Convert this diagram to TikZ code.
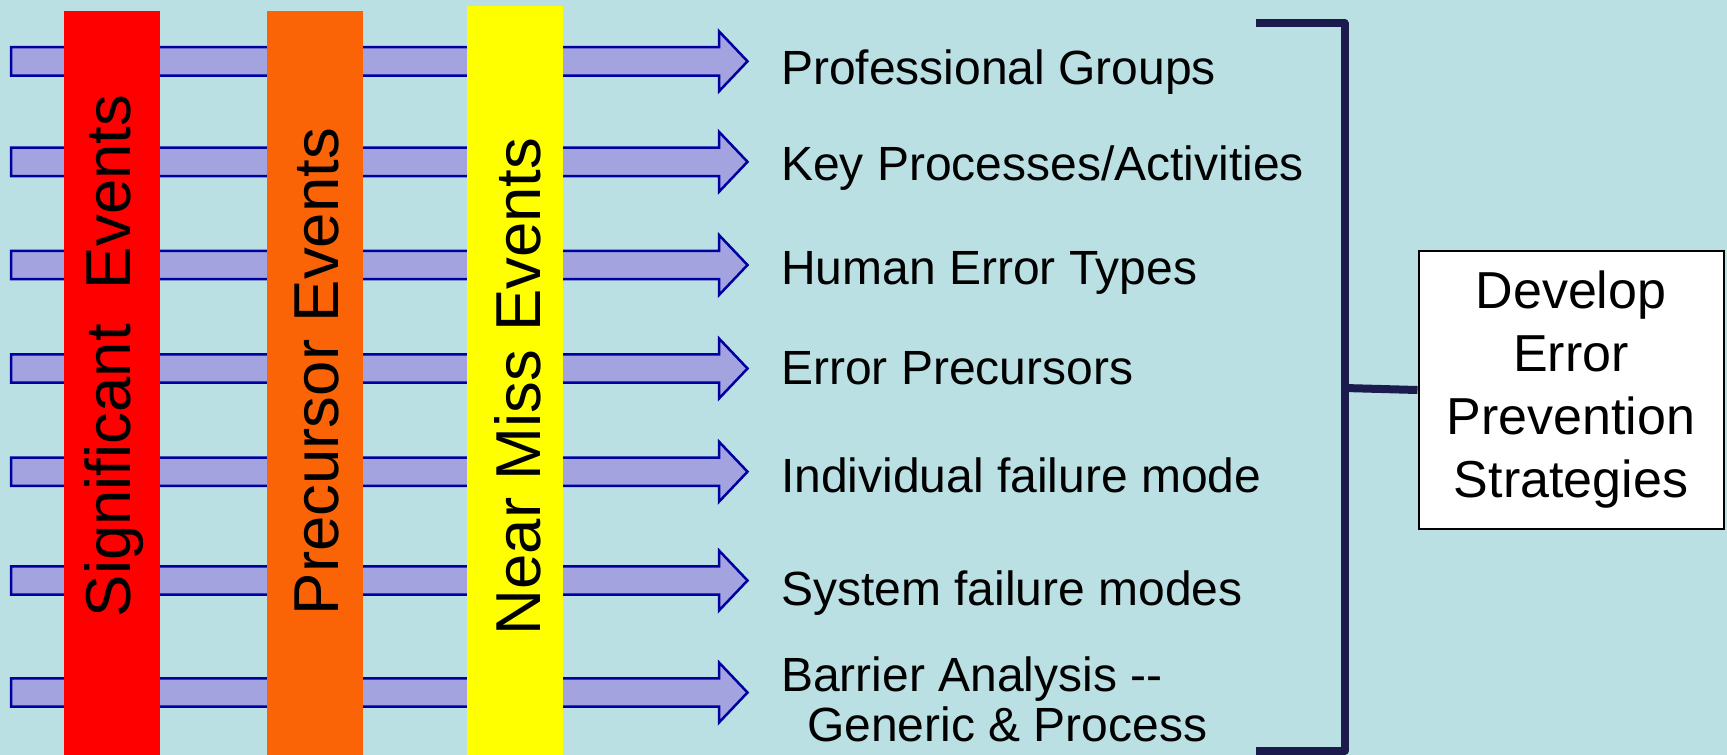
\documentclass[tikz,border=0pt]{standalone}
\usepackage{fontspec}
\setmainfont{Liberation Sans}

\definecolor{bgcyan}{RGB}{186,224,227}
\definecolor{sigred}{RGB}{255,0,0}
\definecolor{preorange}{RGB}{250,100,7}
\definecolor{nearyellow}{RGB}{255,255,0}
\definecolor{arrowfill}{RGB}{163,163,224}
\definecolor{arrowedge}{RGB}{0,0,160}
\definecolor{bracketnavy}{RGB}{27,27,78}

\tikzset{
  flowarrow/.style={draw=arrowedge, fill=arrowfill, line width=2.5pt, line join=miter},
  bartext/.style={rotate=90, anchor=base, inner sep=0pt,
    font=\fontsize{63.5}{76}\selectfont},
  itemtext/.style={anchor=base west, inner sep=0pt,
    font=\fontsize{48}{50}\selectfont},
  bracketline/.style={draw=bracketnavy, line width=8pt, line join=round},
  goalbox/.style={draw=black, fill=white, line width=2pt, align=center,
    minimum width=305pt, minimum height=278pt, inner sep=0pt,
    font=\fontsize{52}{63}\selectfont}
}

\begin{document}
\begin{tikzpicture}[x=1pt, y=-1pt]
  % canvas
  \fill[bgcyan] (0,0) rectangle (1727,755);
  \useasboundingbox (0,0) rectangle (1727,755);

  % block arrows running behind the three event bars
  \foreach \row/\yy in {1/61.3, 2/161.8, 3/265, 4/368.5, 5/471.7, 6/580.5, 7/692.5} {
    \coordinate (arr\row) at (11,\yy);
    \draw[flowarrow] (arr\row) ++(0,-14.2) -- ++(708,0) -- ++(0,-15.8)
      -- ++(28.5,30) -- ++(-28.5,30) -- ++(0,-15.8) -- ++(-708,0) -- cycle;
  }

  % event bars
  \fill[sigred] (64,11) rectangle (160,755);
  \fill[preorange] (267,11) rectangle (362.7,755);
  \fill[nearyellow] (467,6) rectangle (563,755);

  \node[bartext] (sig) at (130,356) {Significant\ \ Events};
  \node[bartext] (pre) at (338,371.5) {Precursor Events};
  \node[bartext] (near) at (540,386.5) {Near Miss Events};

  % analysis categories
  \node[itemtext] (t1) at (781,84) {Professional Groups};
  \node[itemtext] (t2) at (781,180) {Key Processes/Activities};
  \node[itemtext] (t3) at (781,284) {Human Error Types};
  \node[itemtext] (t4) at (781,384) {Error Precursors};
  \node[itemtext] (t5) at (781,492) {Individual failure mode};
  \node[itemtext] (t6) at (781,605) {System failure modes};
  \node[itemtext] (t7) at (781,691) {Barrier Analysis -{}-};
  \node[itemtext] (t8) at (781,741) {\hspace*{26pt}Generic \& Process};

  % outcome box
  \node[goalbox] (goal) at (1571,390) {Develop\\Error\\Prevention\\Strategies};

  % bracket gathering the categories
  \coordinate (btop) at (1256,23.3);
  \coordinate (bbot) at (1256,751);
  \coordinate (bmid) at (1344.5,388);
  \draw[bracketline] (btop) -- (1344.5,23.3) |- (bbot);
  \draw[bracketline] (bmid) -- (goal.west);
\end{tikzpicture}
\end{document}
